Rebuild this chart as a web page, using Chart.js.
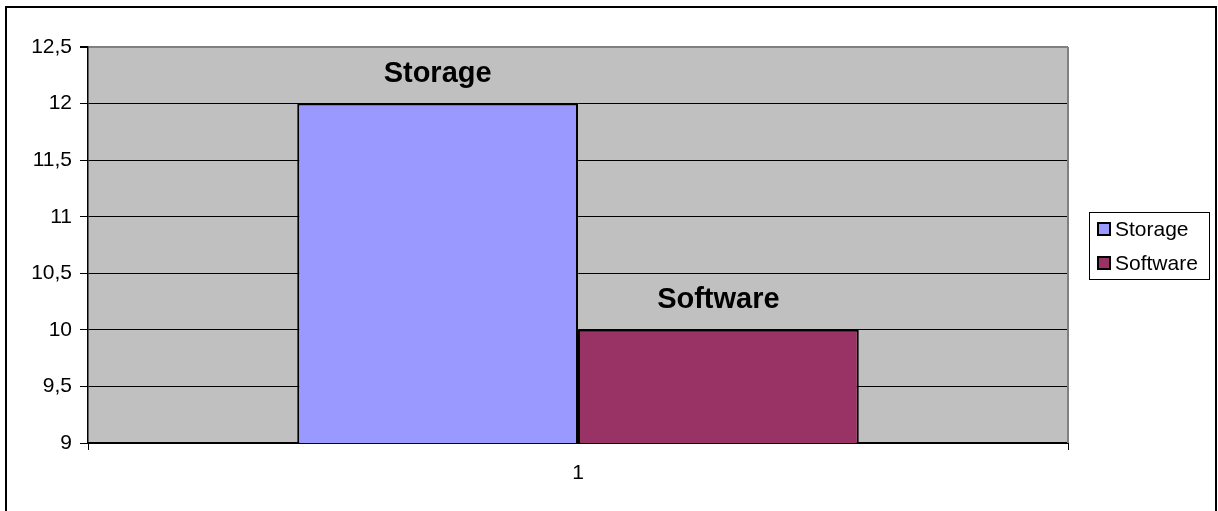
<!DOCTYPE html>
<html>
<head>
<meta charset="utf-8">
<script src="https://cdn.jsdelivr.net/npm/chart.js@4"></script>
<style>
    html, body { margin: 0; padding: 0; background: #fff; }
    #wrap { width: 1218px; height: 511px; }
</style>
</head>
<body>
<div id="wrap"><canvas id="chart1" width="1218" height="511"></canvas></div>
<script>
const categories = ['1'];
const storageValues = [12];
const softwareValues = [10];
const seriesNames = ['Storage', 'Software'];
const yTicks = [9, 9.5, 10, 10.5, 11, 11.5, 12, 12.5];

const FONT = "'Liberation Sans', Arial, sans-serif";

// gray plot area, outer frame and right edge of the plot
const framePlugin = {
    id: 'frame',
    beforeDraw(chart) {
        const c = chart.ctx, a = chart.chartArea;
        c.save();
        c.fillStyle = '#fff';
        c.fillRect(0, 0, chart.width, chart.height);
        c.strokeStyle = '#000';
        c.lineWidth = 2;
        c.strokeRect(6, 7, 1210, 520);
        c.fillStyle = '#c0c0c0';
        c.fillRect(a.left, a.top, a.right - a.left, a.bottom - a.top);
        c.restore();
    },
    afterDraw(chart) {
        const c = chart.ctx, a = chart.chartArea;
        c.save();
        c.strokeStyle = '#808080';
        c.lineWidth = 2;
        c.beginPath();
        c.moveTo(a.right, a.top);
        c.lineTo(a.right, a.bottom);
        c.stroke();
        c.restore();
    }
};

// series name written above each bar
const barLabels = {
    id: 'barLabels',
    afterDatasetsDraw(chart) {
        const c = chart.ctx;
        c.save();
        c.font = 'bold 29px ' + FONT;
        c.fillStyle = '#000';
        c.textAlign = 'center';
        c.textBaseline = 'alphabetic';
        chart.data.datasets.forEach((ds, i) => {
            chart.getDatasetMeta(i).data.forEach(bar => {
                c.fillText(ds.label, bar.x, bar.y - 22);
            });
        });
        c.restore();
    }
};

// boxed legend on the right
const sideLegend = {
    id: 'sideLegend',
    afterDraw(chart) {
        const c = chart.ctx;
        const x = 1089, y = 212, w = 120, h = 67;
        c.save();
        c.fillStyle = '#fff';
        c.fillRect(x, y, w, h);
        c.strokeStyle = '#000';
        c.lineWidth = 1;
        c.strokeRect(x + 0.5, y + 0.5, w, h);
        c.font = '21px ' + FONT;
        c.textBaseline = 'alphabetic';
        chart.data.datasets.forEach((ds, i) => {
            const top = 222 + i * 34;
            c.fillStyle = ds.backgroundColor;
            c.fillRect(1098, top + 1, 12, 12);
            c.lineWidth = 2;
            c.strokeStyle = '#000';
            c.strokeRect(1098, top + 1, 12, 12);
            c.fillStyle = '#000';
            c.fillText(ds.label, 1115, top + 14);
        });
        c.restore();
    }
};

new Chart(document.getElementById('chart1'), {
    type: 'bar',
    data: {
        labels: categories,
        datasets: [{
            label: seriesNames[0],
            data: storageValues,
            backgroundColor: '#9999ff',
            borderColor: '#000',
            borderWidth: 2,
            borderSkipped: false
        }, {
            label: seriesNames[1],
            data: softwareValues,
            backgroundColor: '#993366',
            borderColor: '#000',
            borderWidth: 2,
            borderSkipped: false
        }]
    },
    options: {
        responsive: false,
        animation: false,
        events: [],
        categoryPercentage: 0.573,
        barPercentage: 1,
        layout: { padding: { left: 0, top: 47, right: 150, bottom: 0 } },
        plugins: {
            legend: { display: false },
            tooltip: { enabled: false }
        },
        scales: {
            x: {
                offset: true,
                grid: {
                    offset: true,
                    drawOnChartArea: false,
                    drawTicks: true,
                    tickLength: 7,
                    color: '#000'
                },
                border: { color: '#000', width: 2 },
                ticks: {
                    color: '#000',
                    font: { family: FONT, size: 21 },
                    padding: 11
                },
                afterFit(scale) { scale.height = 68; }
            },
            y: {
                min: 9,
                max: 12.5,
                afterBuildTicks(scale) {
                    scale.ticks = yTicks.map(v => ({ value: v }));
                },
                grid: {
                    color: ctx => (ctx.tick && ctx.tick.value === 12.5) ? '#808080' : '#000',
                    lineWidth: ctx => (ctx.tick && ctx.tick.value === 12.5) ? 2 : 1,
                    tickColor: '#000',
                    tickLength: 8
                },
                border: { color: '#000', width: 1.5 },
                ticks: {
                    color: '#000',
                    font: { family: FONT, size: 21 },
                    padding: 8,
                    callback: v => String(v).replace('.', ',')
                },
                afterFit(scale) { scale.width = 88; }
            }
        }
    },
    plugins: [framePlugin, barLabels, sideLegend]
});
</script>
</body>
</html>
